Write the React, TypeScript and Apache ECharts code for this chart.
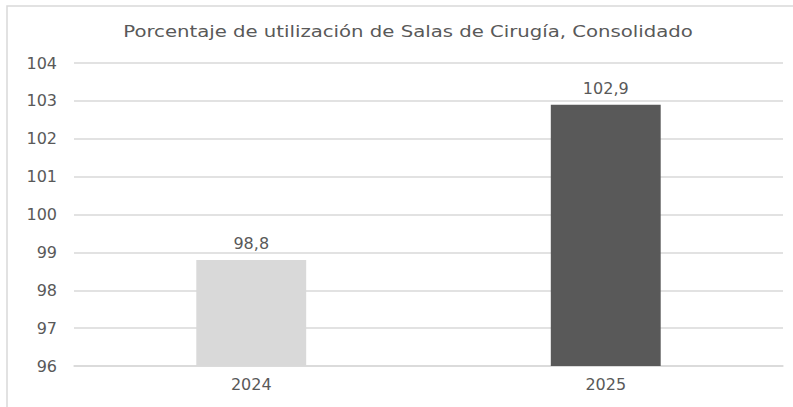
import React, { useEffect, useRef } from "react";
import * as echarts from "echarts";

const TITLE = "Porcentaje de utilización de Salas de Cirugía, Consolidado";
const CATEGORIES = ["2024", "2025"];
const VALUES = [98.8, 102.9];
const BAR_COLORS = ["#d9d9d9", "#595959"];
const Y_MIN = 96;
const Y_MAX = 104;
const Y_INTERVAL = 1;

const FONT = "'DejaVu Sans', sans-serif";
const TEXT_COLOR = "#595959";

export default function App() {
  const ref = useRef<HTMLDivElement>(null);
  useEffect(() => {
    if (!ref.current) return;
    const chart = echarts.init(ref.current, undefined, { renderer: "svg" });
    chart.setOption({
      animation: false,
      backgroundColor: "#ffffff",
      textStyle: { fontFamily: FONT },
      graphic: [
        {
          type: "rect",
          shape: { x: 7, y: 6, width: 900, height: 500 },
          style: { fill: "none", stroke: "#d9d9d9", lineWidth: 1.5 },
          silent: true,
        },
        {
          type: "text",
          x: 408,
          y: 31,
          scaleX: 1.23,
          style: {
            text: TITLE,
            fill: TEXT_COLOR,
            font: `16px ${FONT}`,
            textAlign: "center",
            textVerticalAlign: "middle",
          },
        },
      ],
      grid: { left: 74, right: 10, top: 63, bottom: 41 },
      xAxis: {
        type: "category",
        data: CATEGORIES,
        axisLine: { show: true, lineStyle: { color: "#d9d9d9", width: 1.5 } },
        axisTick: { show: false },
        axisLabel: { color: TEXT_COLOR, fontSize: 16, margin: 10, fontFamily: FONT },
      },
      yAxis: {
        type: "value",
        min: Y_MIN,
        max: Y_MAX,
        interval: Y_INTERVAL,
        axisLine: { show: false },
        axisTick: { show: false },
        splitLine: { lineStyle: { color: "#d9d9d9", width: 1.5 } },
        axisLabel: { color: TEXT_COLOR, fontSize: 16, margin: 17, fontFamily: FONT },
      },
      series: [
        {
          type: "bar",
          barWidth: "31%",
          data: VALUES.map((v, i) => ({ value: v, itemStyle: { color: BAR_COLORS[i] } })),
          label: {
            show: true,
            position: "top",
            distance: 8,
            color: TEXT_COLOR,
            fontSize: 16,
            fontFamily: FONT,
            formatter: (p: any) => String(p.value).replace(".", ","),
          },
        },
      ],
    });
    return () => chart.dispose();
  }, []);
  return (
    <div
      ref={ref}
      style={{ position: "fixed", left: 0, top: 0, width: 793, height: 407, background: "#fff" }}
    />
  );
}
